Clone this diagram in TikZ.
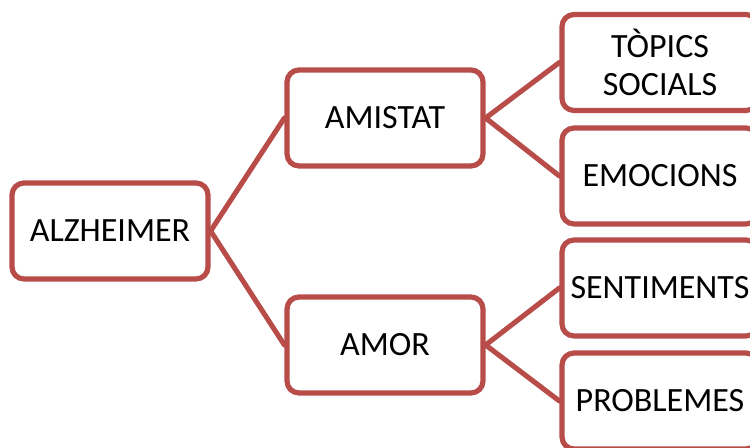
\documentclass[tikz,border=0pt]{standalone}
\usepackage{fontspec}
\setmainfont{Carlito}
\usepackage{tikz}
\usetikzlibrary{positioning}
\definecolor{mmred}{HTML}{B84C49}

\begin{document}
\begin{tikzpicture}[
  x=0.75pt, y=-0.75pt,
  font=\fontsize{25.5}{28.5}\selectfont,
  line cap=round, line join=round,
  mbox/.style={draw=mmred, line width=3.9pt, rounded corners=9pt, fill=white,
               minimum width=147pt, minimum height=72pt, align=center, inner sep=2pt},
  link/.style={draw=mmred, line width=3.8pt},
]
\useasboundingbox (0,0) rectangle (750,448);

% root and middle level
\node[mbox] (alz) at (110,231) {ALZHEIMER};
\node[mbox] (amistat) at (385,118) {AMISTAT};
\node[mbox] (amor) at (385,345) {AMOR};

% right: leaves, cut by the page edge
\node[mbox] (topics) at (660,62.5) {TÒPICS\\SOCIALS};
\node[mbox] (emocions) at (660,176) {EMOCIONS};
\node[mbox] (sentiments) at (660,288) {SENTIMENTS};
\node[mbox] (problemes) at (660,401) {PROBLEMES};

\draw[link] (alz.east) -- (amistat.west);
\draw[link] (alz.east) -- (amor.west);
\draw[link] (amistat.east) -- (topics.west);
\draw[link] (amistat.east) -- (emocions.west);
\draw[link] (amor.east) -- (sentiments.west);
\draw[link] (amor.east) -- (problemes.west);
\end{tikzpicture}
\end{document}
